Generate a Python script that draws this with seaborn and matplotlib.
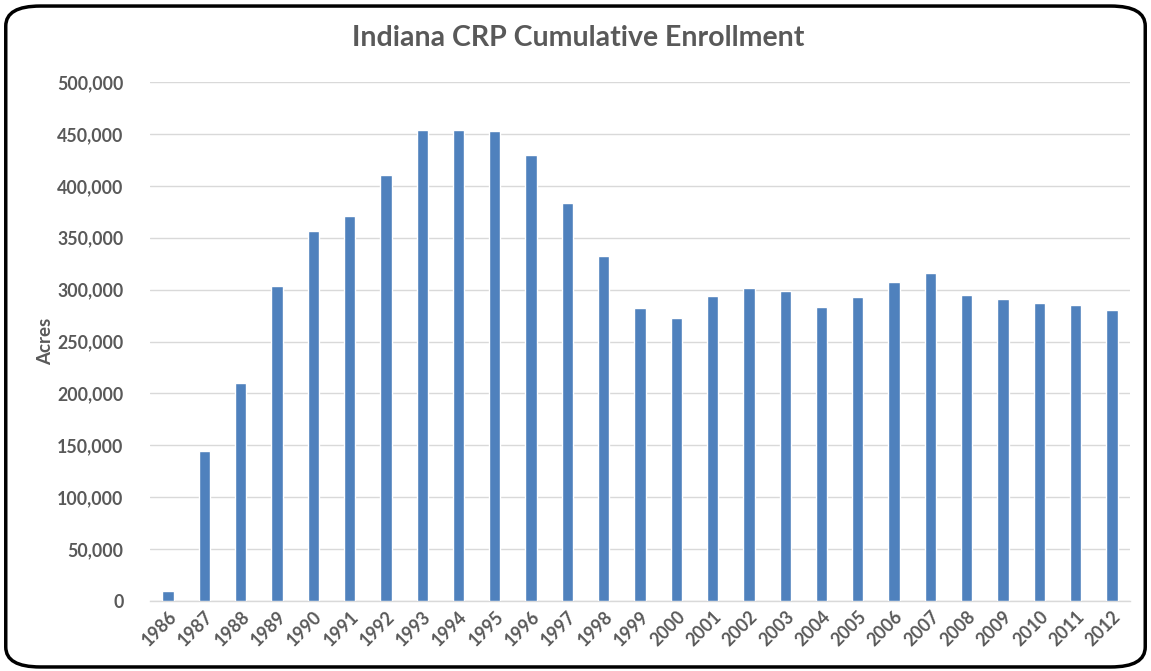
import matplotlib
matplotlib.use("Agg")
import matplotlib.pyplot as plt
from matplotlib.patches import FancyBboxPatch
from matplotlib.ticker import FuncFormatter, MultipleLocator
import seaborn as sns
import pandas as pd

years = [str(y) for y in range(1986, 2013)]
acres = [10000, 144500, 210000, 303000, 356000, 371000, 410500, 453500, 453500,
         452500, 429500, 383000, 332000, 282500, 272500, 293500, 301500, 298500,
         283500, 292500, 307500, 316000, 294500, 290500, 287500, 285500, 280500]

title = "Indiana CRP Cumulative Enrollment"
ylabel = "Acres"

sns.set_theme(style="white")
plt.rcParams["font.family"] = ["Lato", "DejaVu Sans"]

text_color = "#595959"
bar_color = "#4F81BD"
grid_color = "#D9D9D9"

fig = plt.figure(figsize=(11.51, 6.71), dpi=100)
ax = fig.add_axes([0.1303, 0.1043, 0.8515, 0.7735])

df = pd.DataFrame({"Year": years, "Acres": acres})
sns.barplot(data=df, x="Year", y="Acres", color=bar_color, width=0.31,
            saturation=1, ax=ax, zorder=3)

ax.set_ylim(0, 500000)
ax.set_xlim(-0.5, len(years) - 0.5)
ax.yaxis.set_major_locator(MultipleLocator(50000))
ax.yaxis.set_major_formatter(FuncFormatter(lambda v, p: f"{int(v):,}"))
ax.grid(axis="y", color=grid_color, linewidth=1, zorder=0)
ax.set_axisbelow(True)

for s in ["top", "right", "left"]:
    ax.spines[s].set_visible(False)
ax.spines["bottom"].set_color(grid_color)
ax.spines["bottom"].set_linewidth(1)
ax.tick_params(axis="both", length=0, colors=text_color)
ax.tick_params(axis="y", pad=19)
ax.tick_params(axis="x", pad=5)

for lab in ax.get_yticklabels():
    lab.set_fontsize(12.8)
    lab.set_fontweight("bold")
    lab.set_color(text_color)
for lab in ax.get_xticklabels():
    lab.set_fontsize(12.8)
    lab.set_fontweight("bold")
    lab.set_color(text_color)
    lab.set_rotation(45)
    lab.set_ha("right")
    lab.set_rotation_mode("anchor")

ax.set_xlabel("")
ax.set_ylabel(ylabel, fontsize=13.5, fontweight="bold", color=text_color)
ax.yaxis.set_label_coords(-0.098, 0.5)

fig.text(0.502, 0.943, title, ha="center", va="center", fontsize=20.5,
         fontweight="bold", color=text_color)

border = FancyBboxPatch((0.005, 0.006), 0.99, 0.985,
                        boxstyle="round,pad=0,rounding_size=0.03",
                        transform=fig.transFigure, fill=False,
                        edgecolor="black", linewidth=2.5,
                        mutation_aspect=671 / 1151 * 1.7)
fig.patches.append(border)

fig.savefig("out.png", dpi=100, facecolor="white")
